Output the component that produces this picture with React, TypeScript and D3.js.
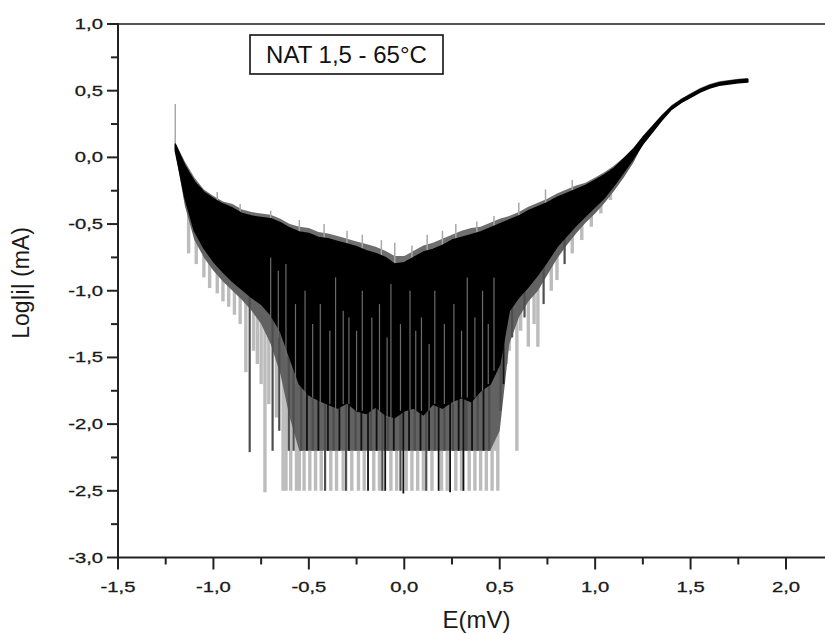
import React, { useEffect, useRef } from 'react';
import * as d3 from 'd3';

// curve envelope, E (mV) vs log|i| (mA)
const envX = [
  -1.20, -1.15, -1.10, -1.05, -1.00, -0.95, -0.90, -0.85, -0.80, -0.75, -0.70, -0.65, -0.60, -0.55, -0.50, -0.45,
  -0.40, -0.35, -0.30, -0.25, -0.20, -0.15, -0.10, -0.05, 0.00, 0.05, 0.10, 0.15, 0.20, 0.25, 0.30, 0.35,
  0.40, 0.45, 0.50, 0.55, 0.60, 0.65, 0.70, 0.75, 0.80, 0.85, 0.90, 0.95, 1.00, 1.05, 1.10, 1.15,
  1.20, 1.25, 1.30, 1.35, 1.40, 1.45, 1.50, 1.55, 1.60, 1.65, 1.70, 1.75, 1.80,
];
// top of the solid black band
const envTop = [
  0.10, -0.06, -0.18, -0.26, -0.31, -0.35, -0.38, -0.42, -0.44, -0.45, -0.46, -0.49, -0.53, -0.56, -0.57, -0.60,
  -0.61, -0.63, -0.65, -0.67, -0.70, -0.72, -0.75, -0.80, -0.79, -0.75, -0.71, -0.69, -0.66, -0.62, -0.60, -0.58,
  -0.56, -0.53, -0.50, -0.47, -0.44, -0.40, -0.37, -0.34, -0.30, -0.27, -0.24, -0.21, -0.17, -0.13, -0.08, -0.01,
  0.06, 0.15, 0.23, 0.31, 0.38, 0.43, 0.47, 0.51, 0.54, 0.56, 0.57, 0.58, 0.585,
];
// grey fringe above the black band
const envGrey = [
  0.11, -0.03, -0.15, -0.24, -0.29, -0.33, -0.35, -0.39, -0.41, -0.42, -0.43, -0.46, -0.50, -0.52, -0.53, -0.56,
  -0.57, -0.59, -0.61, -0.63, -0.65, -0.67, -0.70, -0.74, -0.74, -0.70, -0.66, -0.64, -0.61, -0.58, -0.55, -0.53,
  -0.52, -0.49, -0.46, -0.44, -0.41, -0.37, -0.34, -0.31, -0.27, -0.24, -0.21, -0.19, -0.15, -0.11, -0.06, 0.00,
  0.07, 0.16, 0.24, 0.32, 0.39, 0.44, 0.48, 0.52, 0.55, 0.57, 0.58, 0.59, 0.595,
];
// bottom of the solid black band
const envBottom = [
  0.05, -0.30, -0.55, -0.68, -0.78, -0.86, -0.93, -0.99, -1.05, -1.10, -1.18, -1.30, -1.50, -1.70, -1.78, -1.82,
  -1.85, -1.88, -1.84, -1.90, -1.92, -1.87, -1.93, -1.95, -1.90, -1.88, -1.93, -1.85, -1.88, -1.83, -1.80, -1.83,
  -1.75, -1.70, -1.55, -1.15, -1.05, -0.97, -0.88, -0.78, -0.67, -0.59, -0.51, -0.44, -0.37, -0.30, -0.21, -0.11,
  -0.01, 0.10, 0.19, 0.28, 0.36, 0.41, 0.45, 0.49, 0.52, 0.54, 0.55, 0.56, 0.565,
];
// lower edge of the dense dark-grey zone under the black band
const envDark = [
  0.05, -0.36, -0.62, -0.75, -0.85, -0.93, -1.00, -1.07, -1.15, -1.25, -1.40, -1.62, -1.95, -2.20, -2.20, -2.20,
  -2.20, -2.20, -2.20, -2.20, -2.20, -2.20, -2.20, -2.20, -2.20, -2.20, -2.20, -2.20, -2.20, -2.20, -2.20, -2.20,
  -2.20, -2.20, -2.05, -1.40, -1.20, -1.08, -1.00, -0.88, -0.76, -0.66, -0.57, -0.49, -0.42, -0.34, -0.25, -0.15,
  -0.04, 0.10, 0.19, 0.28, 0.36, 0.41, 0.45, 0.49, 0.52, 0.54, 0.55, 0.56, 0.565,
];

// downward noise spikes: position, lowest value, tone (l light, d dark, k black)
const spikeX = [
  -1.13, -1.09, -1.05, -1.02, -0.98, -0.95, -0.92, -0.89, -0.86, -0.83, -0.81, -0.79, -0.77, -0.75, -0.73, -0.71,
  -0.69, -0.67, -0.655, -0.635, -0.62, -0.605, -0.595, -0.58, -0.565,
  -0.55, -0.54, -0.525, -0.51, -0.495, -0.48, -0.465, -0.45, -0.435, -0.415, -0.40, -0.385, -0.37, -0.355, -0.34, -0.32,
  -0.305, -0.29, -0.275, -0.255, -0.24, -0.225, -0.21, -0.19, -0.175, -0.16, -0.145, -0.13, -0.115, -0.10, -0.085, -0.07,
  -0.055, -0.04, -0.02, -0.005, 0.01, 0.025, 0.04, 0.055, 0.07, 0.085, 0.10, 0.115, 0.13, 0.145, 0.16, 0.18,
  0.195, 0.21, 0.225, 0.24, 0.255, 0.27, 0.285, 0.30, 0.31, 0.325, 0.34, 0.355, 0.37, 0.385, 0.40, 0.415,
  0.43, 0.445, 0.46, 0.475, 0.49,
  0.505, 0.52, 0.535, 0.55, 0.565, 0.59, 0.61, 0.63, 0.65, 0.68, 0.70, 0.73, 0.77, 0.80, 0.84, 0.88,
  0.93, 0.98, 1.03, 1.08,
];
const spikeLow = [
  -0.72, -0.80, -0.90, -0.98, -1.02, -1.08, -1.12, -1.18, -1.25, -1.61, -2.21, -1.45, -1.55, -1.70, -2.51, -1.85,
  -2.20, -1.95, -2.05, -2.50, -2.50, -2.20, -2.50, -2.20, -2.50,
  -2.50, -2.20, -2.50, -2.20, -2.50, -2.20, -2.50, -2.20, -2.50, -2.50, -2.20, -2.50, -2.20, -2.50, -2.20, -2.50,
  -2.50, -2.20, -2.50, -2.20, -2.50, -2.20, -2.50, -2.50, -2.20, -2.50, -2.20, -2.50, -2.50, -2.50, -2.20, -2.50,
  -2.20, -2.50, -2.50, -2.52, -2.50, -2.20, -2.50, -2.20, -2.50, -2.20, -2.50, -2.50, -2.20, -2.50, -2.20, -2.50,
  -2.50, -2.20, -2.50, -2.51, -2.20, -2.50, -2.20, -2.50, -2.50, -2.20, -2.50, -2.20, -2.50, -2.20, -2.50, -2.20,
  -2.50, -2.20, -2.50, -2.20, -2.50,
  -1.90, -1.70, -1.55, -1.45, -1.35, -2.20, -1.30, -1.20, -1.42, -1.25, -1.42, -1.10, -1.00, -0.92, -0.80, -0.72,
  -0.62, -0.52, -0.42, -0.32,
];
const spikeTone = [
  'l', 'l', 'l', 'l', 'l', 'l', 'l', 'l', 'l', 'l', 'd', 'l', 'l', 'l', 'l', 'l',
  'd', 'l', 'd', 'l', 'l', 'd', 'l', 'd', 'l',
  'l', 'd', 'l', 'k', 'l', 'd', 'l', 'k', 'l', 'd', 'k', 'l', 'd', 'l', 'k', 'l',
  'd', 'k', 'l', 'd', 'l', 'k', 'l', 'k', 'd', 'l', 'k', 'l', 'd', 'k', 'd', 'l',
  'k', 'l', 'd', 'k', 'l', 'k', 'l', 'd', 'l', 'k', 'l', 'd', 'k', 'l', 'd', 'k',
  'l', 'd', 'l', 'k', 'd', 'l', 'k', 'l', 'k', 'd', 'l', 'k', 'l', 'd', 'l', 'k',
  'l', 'd', 'l', 'l', 'l',
  'd', 'k', 'l', 'l', 'd', 'l', 'l', 'd', 'l', 'l', 'l', 'd', 'l', 'l', 'd', 'l',
  'l', 'l', 'l', 'l',
];

// light streaks seen inside the black band
const streakX = [
  -0.70, -0.66, -0.62, -0.57, -0.52, -0.48, -0.44, -0.39, -0.36, -0.32, -0.29, -0.25, -0.22, -0.17, -0.13, -0.09,
  -0.07, -0.02, 0.03, 0.06, 0.09, 0.13, 0.16, 0.21, 0.26, 0.30, 0.33, 0.37, 0.41, 0.44, 0.47,
];
const streakTop = [
  -0.75, -0.85, -0.80, -1.10, -1.00, -1.25, -1.10, -1.30, -0.90, -1.15, -1.20, -1.30, -1.00, -1.20, -1.10, -1.35,
  -0.95, -1.25, -1.00, -1.30, -1.20, -1.40, -1.00, -1.25, -1.10, -1.30, -0.90, -1.20, -1.00, -1.25, -0.90,
];
const streakLow = [
  -1.20, -1.35, -1.50, -1.70, -1.80, -1.80, -1.85, -1.85, -1.90, -1.85, -1.85, -1.90, -1.90, -1.90, -1.90, -1.95,
  -1.95, -1.90, -1.90, -1.90, -1.90, -1.90, -1.85, -1.85, -1.85, -1.80, -1.80, -1.80, -1.75, -1.70, -1.60,
];

// upward grey tips
const tipX = [-1.20, -0.98, -0.86, -0.70, -0.55, -0.42, -0.30, -0.22, -0.12, -0.05, 0.04, 0.12, 0.20, 0.27, 0.38, 0.47, 0.60, 0.74, 0.88];
const tipHigh = [0.40, -0.26, -0.35, -0.40, -0.47, -0.50, -0.55, -0.58, -0.62, -0.64, -0.66, -0.58, -0.55, -0.50, -0.48, -0.44, -0.34, -0.24, -0.17];

const xMajor = [-1.5, -1.0, -0.5, 0.0, 0.5, 1.0, 1.5, 2.0];
const xMinor = [-1.25, -0.75, -0.25, 0.25, 0.75, 1.25, 1.75];
const yMajor = [-3.0, -2.5, -2.0, -1.5, -1.0, -0.5, 0.0, 0.5, 1.0];
const yMinor = [-2.75, -2.25, -1.75, -1.25, -0.75, -0.25, 0.25, 0.75];

const legendText = 'NAT 1,5 - 65°C';
const xTitle = 'E(mV)';
const yTitle = 'Log|i| (mA)';

const W = 825;
const H = 634;
const font = '"Liberation Sans", Arial, sans-serif';

function App() {
  const svgRef = useRef<SVGSVGElement>(null);

  useEffect(() => {
    const svg = d3.select(svgRef.current);
    svg.selectAll('*').remove();

    const left = 118;
    const x = d3.scaleLinear().domain([-1.5, 2.0]).range([left, 786]);
    const y = d3.scaleLinear().domain([-3.0, 1.0]).range([557.5, 24]);
    const right = W;
    const bottom = y(-3.0);
    const top = y(1.0);

    const topAt = d3.scaleLinear().domain(envX).range(envTop);
    const fmt = (v: number) => d3.format('.1f')(v).replace('.', ',').replace('−', '-');

    const band = (lo: number[], hi: number[]) => d3.area<number>()
      .x(d => x(d))
      .y0((d, i) => y(lo[i]))
      .y1((d, i) => y(hi[i]))(envX);

    const plot = svg.append('g');

    const tones: Record<string, [string, number]> = { l: ['#bcbcbc', 3.4], d: ['#4e4e4e', 2.2], k: ['#111', 1.8] };
    const drawSpikes = (t: string) => {
      const idx = spikeX.map((_, i) => i).filter(i => spikeTone[i] === t);
      plot.append('g').selectAll('line').data(idx).enter().append('line')
        .attr('x1', i => x(spikeX[i])).attr('x2', i => x(spikeX[i]))
        .attr('y1', i => y(topAt(spikeX[i])))
        .attr('y2', i => y(spikeLow[i]))
        .attr('stroke', tones[t][0])
        .attr('stroke-width', tones[t][1]);
    };

    // grey fringe above
    plot.append('path').attr('fill', '#6f6f6f').attr('d', band(envTop, envGrey));

    drawSpikes('l');
    // dark grey zone below the black band
    plot.append('path').attr('fill', '#626262').attr('d', band(envDark, envBottom));
    drawSpikes('d');
    drawSpikes('k');

    plot.append('g').selectAll('line').data(tipX).enter().append('line')
      .attr('x1', d => x(d)).attr('x2', d => x(d))
      .attr('y1', d => y(topAt(d)))
      .attr('y2', (d, i) => y(tipHigh[i]))
      .attr('stroke', '#a8a8a8').attr('stroke-width', 1.5);

    // solid black band
    plot.append('path')
      .attr('fill', '#000')
      .attr('stroke', '#000')
      .attr('stroke-width', 1.5)
      .attr('stroke-linejoin', 'round')
      .attr('d', band(envBottom, envTop));

    plot.append('g').selectAll('line').data(streakX).enter().append('line')
      .attr('x1', d => x(d)).attr('x2', d => x(d))
      .attr('y1', (d, i) => y(streakTop[i]))
      .attr('y2', (d, i) => y(streakLow[i]))
      .attr('stroke', '#6c6c6c').attr('stroke-width', 1.2);

    // axes
    const ax = svg.append('g').attr('stroke', '#222').attr('stroke-width', 2);
    ax.append('line').attr('x1', left).attr('x2', right).attr('y1', top).attr('y2', top).attr('stroke', '#555');
    ax.append('line').attr('x1', left).attr('x2', right).attr('y1', bottom).attr('y2', bottom);
    ax.append('line').attr('x1', left).attr('x2', left).attr('y1', top - 1).attr('y2', bottom + 1);

    ax.selectAll('.xM').data(xMajor).enter().append('line')
      .attr('x1', d => x(d)).attr('x2', d => x(d)).attr('y1', bottom).attr('y2', bottom + 12);
    ax.selectAll('.xm').data(xMinor).enter().append('line')
      .attr('x1', d => x(d)).attr('x2', d => x(d)).attr('y1', bottom).attr('y2', bottom + 7);
    ax.selectAll('.yM').data(yMajor).enter().append('line')
      .attr('x1', left - 11).attr('x2', left).attr('y1', d => y(d)).attr('y2', d => y(d));
    ax.selectAll('.ym').data(yMinor).enter().append('line')
      .attr('x1', left - 7).attr('x2', left).attr('y1', d => y(d)).attr('y2', d => y(d));

    // tick labels (wide digits as in the source)
    svg.append('g').selectAll('text').data(xMajor).enter().append('text')
      .attr('transform', d => `translate(${x(d)},592) scale(1.35,1)`)
      .attr('text-anchor', 'middle')
      .attr('font-family', font).attr('font-size', 15).attr('fill', '#1a1a1a')
      .attr('stroke', '#1a1a1a').attr('stroke-width', 0.3)
      .text(d => fmt(d));
    svg.append('g').selectAll('text').data(yMajor).enter().append('text')
      .attr('transform', d => `translate(103,${y(d) + 5}) scale(1.35,1)`)
      .attr('text-anchor', 'end')
      .attr('font-family', font).attr('font-size', 15).attr('fill', '#1a1a1a')
      .attr('stroke', '#1a1a1a').attr('stroke-width', 0.3)
      .text(d => fmt(d));

    // titles
    svg.append('text')
      .attr('x', 476.5).attr('y', 628)
      .attr('text-anchor', 'middle')
      .attr('font-family', font).attr('font-size', 24).attr('fill', '#1a1a1a')
      .text(xTitle);
    svg.append('text')
      .attr('transform', 'translate(29,283) rotate(-90)')
      .attr('text-anchor', 'middle')
      .attr('font-family', font).attr('font-size', 23).attr('fill', '#1a1a1a')
      .text(yTitle);

    // legend box
    svg.append('rect')
      .attr('x', 250).attr('y', 35).attr('width', 193).attr('height', 39)
      .attr('fill', '#fff').attr('stroke', '#111').attr('stroke-width', 1.6);
    svg.append('text')
      .attr('x', 346.5).attr('y', 63)
      .attr('text-anchor', 'middle')
      .attr('font-family', font).attr('font-size', 24).attr('fill', '#111')
      .text(legendText);
  }, []);

  return (
    <svg ref={svgRef} width={W} height={H}
      style={{ position: 'absolute', left: 0, top: 0, background: '#fff' }} />
  );
}

export default App;
